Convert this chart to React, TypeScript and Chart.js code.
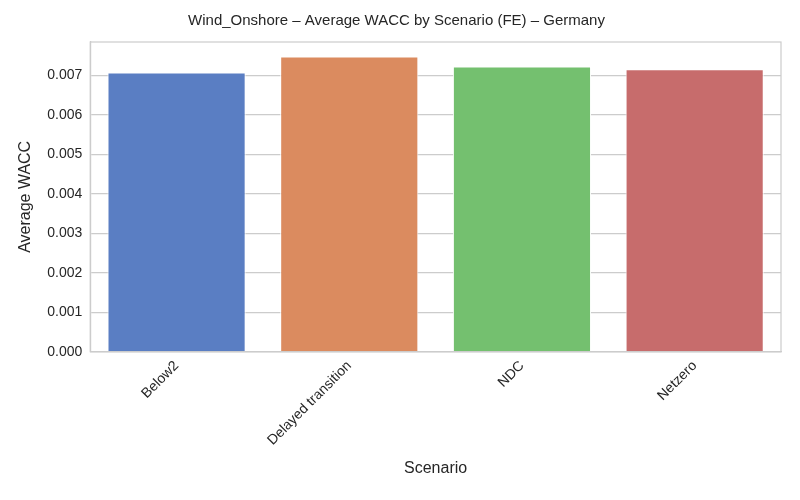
import { useEffect, useRef } from "react";
import { Chart, registerables, type Plugin } from "chart.js";

Chart.register(...registerables);

const scenarios = ["Below2", "Delayed transition", "NDC", "Netzero"];
const avgWacc = [0.00708, 0.00748, 0.00723, 0.00716];
const barColors = ["#5a7ec3", "#db8b5f", "#74c06f", "#c76c6c"];

const font = "'Liberation Sans', Arial, sans-serif";

// seaborn whitegrid draws a full frame round the axes
const frame: Plugin<"bar"> = {
  id: "frame",
  afterDraw(chart) {
    const { ctx, chartArea: a } = chart;
    ctx.save();
    ctx.strokeStyle = "#cccccc";
    ctx.lineWidth = 1.2;
    ctx.strokeRect(a.left, a.top, a.right - a.left, a.bottom - a.top);
    ctx.restore();
  },
};

export default function App() {
  const canvasRef = useRef<HTMLCanvasElement>(null);

  useEffect(() => {
    const canvas = canvasRef.current;
    if (!canvas) return;
    const chart = new Chart(canvas, {
      type: "bar",
      data: {
        labels: scenarios,
        datasets: [
          {
            label: "Average WACC",
            data: avgWacc,
            backgroundColor: barColors,
            borderColor: "#ffffff",
            borderWidth: 1,
            categoryPercentage: 0.8,
            barPercentage: 1,
          },
        ],
      },
      options: {
        animation: false,
        responsive: false,
        layout: { padding: { left: 12, right: 19, top: 2, bottom: 18 } },
        plugins: {
          legend: { display: false },
          tooltip: { enabled: false },
          title: {
            display: true,
            text: "Wind_Onshore – Average WACC by Scenario (FE) – Germany",
            color: "#262626",
            font: { family: font, size: 15, weight: "normal" },
            padding: { top: 10, bottom: 12 },
          },
        },
        scales: {
          x: {
            grid: { display: false, drawTicks: false },
            border: { color: "#cccccc", width: 1.2 },
            ticks: {
              color: "#262626",
              font: { family: font, size: 14 },
              maxRotation: 45,
              minRotation: 45,
              padding: 6,
            },
            title: {
              display: true,
              text: "Scenario",
              color: "#262626",
              font: { family: font, size: 16 },
            },
          },
          y: {
            min: 0,
            max: 0.00785,
            afterBuildTicks: (axis) => {
              axis.ticks = [0, 1, 2, 3, 4, 5, 6, 7].map((v) => ({ value: v / 1000 }));
            },
            grid: { color: "#cccccc", lineWidth: 1.2, drawTicks: false },
            border: { color: "#cccccc", width: 1.2 },
            ticks: {
              color: "#262626",
              font: { family: font, size: 14 },
              padding: 8,
              callback: (v) => Number(v).toFixed(3),
            },
            title: {
              display: true,
              text: "Average WACC",
              color: "#262626",
              font: { family: font, size: 16 },
            },
          },
        },
      },
      plugins: [frame],
    });
    return () => chart.destroy();
  }, []);

  return (
    <div style={{ width: 800, height: 500, margin: -8, background: "#fff" }}>
      <canvas ref={canvasRef} width={800} height={500} />
    </div>
  );
}
